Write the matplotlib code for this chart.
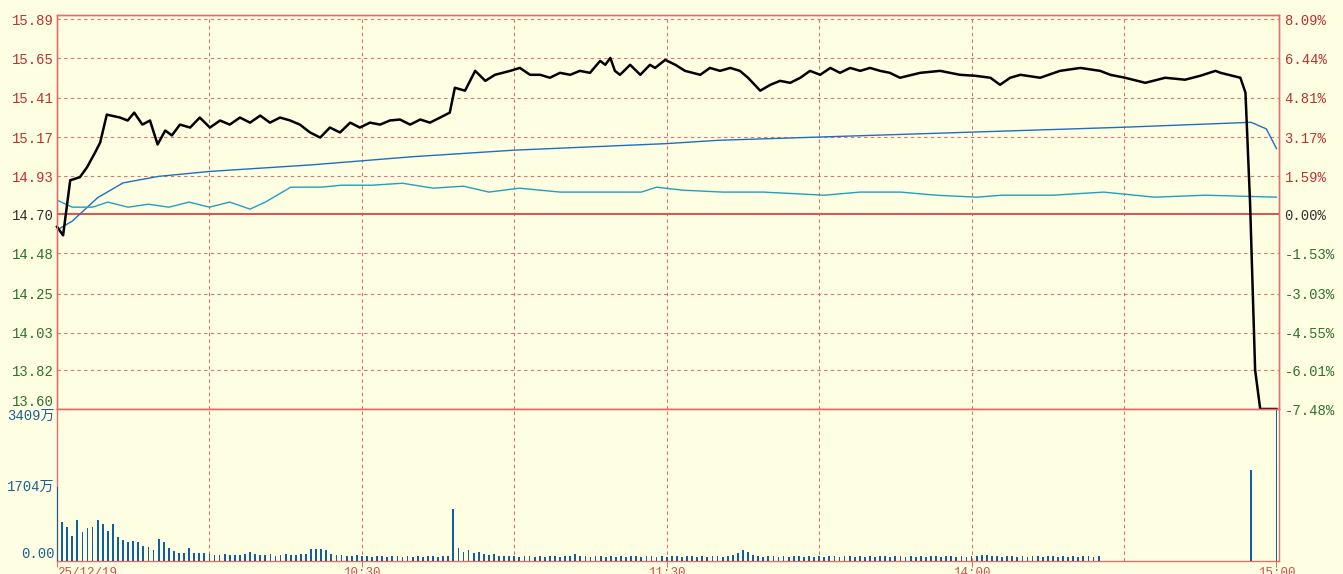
import numpy as np
import matplotlib
matplotlib.use("Agg")
import matplotlib.pyplot as plt

BG = "#FEFEE2"
GRID = "#E07070"

prev_close = 14.70
price_ticks = [15.89, 15.65, 15.41, 15.17, 14.93, 14.70, 14.48, 14.25, 14.03, 13.82, 13.60]
pct_labels = ["8.09%", "6.44%", "4.81%", "3.17%", "1.59%", "0.00%", "-1.53%", "-3.03%", "-4.55%", "-6.01%", "-7.48%"]
vol_ticks = [0, 1704, 3409]
vol_labels = ["0.00", "1704万", "3409万"]
time_ticks = [0, 60, 120, 180, 240]
time_labels = ["25/12/19", "10:30", "11:30", "14:00", "15:00"]

price_min = [0, 1.2, 2.6, 4.5, 5.9, 7.5, 8.5, 9.8, 12.4, 13.9, 15.2, 16.8, 18.3, 19.8, 21.3, 22.6, 24.2, 26.2, 28.1, 30.1, 32.1, 34.0, 36.0, 38.0, 40.0, 41.9, 43.9, 45.9, 47.8, 49.8, 51.8, 53.7, 55.7, 57.7, 59.6, 61.6, 63.6, 65.5, 67.5, 69.5, 71.5, 73.4, 75.4, 77.3, 78.3, 80.3, 82.3, 84.3, 86.2, 89.2, 91.1, 93.1, 95.1, 97.0, 99.0, 101.0, 102.9, 104.9, 106.9, 107.9, 108.9, 109.8, 110.8, 112.8, 114.8, 116.7, 117.7, 119.7, 121.7, 123.6, 126.6, 128.5, 130.5, 132.5, 134.4, 136.0, 138.4, 140.4, 142.3, 144.3, 146.3, 148.2, 150.2, 152.2, 154.1, 156.1, 158.1, 160.0, 162.0, 163.9, 165.9, 169.9, 173.8, 177.7, 180.7, 183.7, 185.6, 187.6, 189.6, 193.5, 197.4, 201.4, 205.3, 207.3, 210.2, 214.2, 218.1, 222.0, 225.0, 228.0, 229.0, 232.9, 233.9, 234.8, 235.8, 236.8, 240.0]
price_val = [14.628, 14.58, 14.906, 14.925, 14.985, 15.076, 15.137, 15.307, 15.289, 15.271, 15.319, 15.246, 15.271, 15.125, 15.210, 15.180, 15.246, 15.228, 15.289, 15.228, 15.271, 15.246, 15.289, 15.258, 15.301, 15.258, 15.289, 15.271, 15.246, 15.198, 15.167, 15.228, 15.198, 15.258, 15.228, 15.258, 15.246, 15.271, 15.277, 15.246, 15.277, 15.258, 15.289, 15.319, 15.471, 15.453, 15.574, 15.513, 15.550, 15.574, 15.592, 15.550, 15.550, 15.532, 15.562, 15.550, 15.574, 15.562, 15.635, 15.611, 15.653, 15.574, 15.550, 15.611, 15.550, 15.611, 15.592, 15.641, 15.611, 15.574, 15.550, 15.592, 15.574, 15.592, 15.574, 15.532, 15.453, 15.489, 15.513, 15.501, 15.532, 15.574, 15.550, 15.592, 15.562, 15.592, 15.574, 15.592, 15.574, 15.562, 15.532, 15.562, 15.574, 15.550, 15.544, 15.532, 15.489, 15.532, 15.550, 15.532, 15.574, 15.592, 15.574, 15.550, 15.532, 15.501, 15.532, 15.520, 15.544, 15.574, 15.562, 15.532, 15.441, 14.773, 13.82, 13.60, 13.60]
avg_min = [0, 3, 8, 13, 20, 30, 50, 70, 90, 120, 130, 150, 180, 210, 235, 238, 240]
avg_val = [14.61, 14.66, 14.80, 14.89, 14.93, 14.96, 15.00, 15.05, 15.09, 15.13, 15.15, 15.17, 15.20, 15.23, 15.26, 15.22, 15.10]
idx_min = [0, 3, 5, 7, 10, 14, 18, 22, 26, 30, 34, 38, 41, 46, 52, 56, 62, 68, 74, 80, 85, 91, 99, 107, 115, 118, 123, 131, 139, 151, 158, 166, 173, 181, 186, 196, 206, 216, 226, 240]
idx_val = [14.785, 14.742, 14.742, 14.742, 14.773, 14.742, 14.760, 14.742, 14.773, 14.742, 14.773, 14.730, 14.773, 14.864, 14.864, 14.876, 14.876, 14.888, 14.858, 14.870, 14.834, 14.858, 14.834, 14.834, 14.834, 14.864, 14.846, 14.834, 14.834, 14.815, 14.834, 14.834, 14.815, 14.803, 14.815, 14.815, 14.834, 14.803, 14.815, 14.803]

volume = [1650, 865, 760, 570, 918, 645, 736, 760, 918, 827,
          683, 827, 546, 478, 433, 455, 433, 342, 304, 243,
          486, 417, 281, 228, 190, 182, 281, 182, 182, 190,
          150, 140, 130, 150, 130, 140, 130, 150, 200, 150,
          140, 130, 150, 120, 140, 150, 130, 140, 150, 160,
          270, 260, 270, 250, 150, 140, 130, 120, 110, 130,
          120, 110, 100, 120, 110, 100, 110, 120, 100, 110,
          100, 110, 100, 120, 110, 100, 110, 120, 1166, 300,
          200, 250, 180, 200, 150, 130, 150, 120, 110, 120,
          110, 100, 110, 120, 100, 110, 100, 120, 110, 100,
          110, 120, 160, 120, 110, 100, 110, 120, 100, 110,
          100, 110, 100, 120, 110, 100, 110, 120, 100, 110,
          100, 120, 110, 100, 110, 120, 100, 110, 100, 110,
          120, 100, 110, 130, 180, 250, 200, 130, 110, 100,
          110, 120, 100, 110, 100, 110, 120, 100, 110, 100,
          110, 100, 120, 110, 100, 110, 120, 100, 110, 100,
          110, 100, 120, 110, 100, 110, 120, 100, 110, 100,
          110, 100, 120, 110, 100, 110, 120, 100, 110, 100,
          110, 120, 130, 140, 120, 110, 100, 110, 120, 100,
          110, 100, 120, 110, 100, 110, 120, 100, 110, 100,
          110, 100, 120, 110, 100, 110, 0, 0, 0, 0,
          0, 0, 0, 0, 0, 0, 0, 0, 0, 0,
          0, 0, 0, 0, 0, 0, 0, 0, 0, 0,
          0, 0, 0, 0, 0, 2040, 0, 0, 0, 0,
          3409]


def fwd(p):
    p = np.asarray(p, dtype=float)
    return np.where(p >= prev_close, (p - prev_close) / 0.238, (p - prev_close) / 0.22)


def inv(v):
    v = np.asarray(v, dtype=float)
    return np.where(v >= 0, prev_close + v * 0.238, prev_close + v * 0.22)


W, H = 1343, 574
fig = plt.figure(figsize=(W / 100, H / 100), dpi=100, facecolor=BG)
L, R = 57 / W, 1279 / W
ax = fig.add_axes([L, 1 - 409 / H, R - L, (409 - 15) / H], facecolor=BG)
axv = fig.add_axes([L, 1 - 561 / H, R - L, (561 - 409) / H], facecolor=BG, sharex=ax)

mono = ["Liberation Mono", "Noto Sans CJK SC"]

ax.set_yscale("function", functions=(fwd, inv))
ax.set_ylim(13.60, 15.89 + 0.025)
ax.set_xlim(0, 240.5)
ax.plot(price_min, price_val, color="black", lw=1.8, zorder=5, clip_on=False)
ax.plot(avg_min, avg_val, color="#1F6FC0", lw=1.0, zorder=4)
ax.plot(idx_min, idx_val, color="#20A0C0", lw=1.0, zorder=4)

for t in price_ticks:
    if t == prev_close:
        ax.axhline(t, color="#E05050", lw=1.4, zorder=3)
    elif t != 13.60:
        ax.axhline(t, color=GRID, lw=0.8, ls=(0, (3, 3)), zorder=1)
for t in range(30, 240, 30):
    ax.axvline(t, color=GRID, lw=0.8, ls=(0, (3, 3)), zorder=1)
    axv.axvline(t, color=GRID, lw=0.8, ls=(0, (3, 3)), zorder=1)

def color_for(t):
    return "#C03030" if t > prev_close else ("#303030" if t == prev_close else "#307030")

ax.set_yticks(price_ticks)
ax.set_yticklabels([f"{t:.2f}" for t in price_ticks], family=mono, fontsize=10)
for lab, t in zip(ax.get_yticklabels(), price_ticks):
    lab.set_color(color_for(t))
    if t == 13.60:
        lab.set_va("bottom")
ax.tick_params(axis="y", length=0, pad=2)
ax.tick_params(axis="x", length=0, labelbottom=False)

ax2 = ax.twinx()
ax2.set_yscale("function", functions=(fwd, inv))
ax2.set_ylim(ax.get_ylim())
ax2.set_yticks(price_ticks)
ax2.set_yticklabels(pct_labels, family=mono, fontsize=10)
for lab, t in zip(ax2.get_yticklabels(), price_ticks):
    lab.set_color(color_for(t))
ax2.tick_params(axis="y", length=0, pad=4)

axv.bar(np.arange(len(volume)), volume, width=0.35, color="#1060A0", zorder=3)
axv.set_ylim(0, 3409)
axv.set_yticks(vol_ticks)
axv.set_yticklabels(vol_labels, family=mono, fontsize=10, color="#1F6090")
for lab, t in zip(axv.get_yticklabels(), vol_ticks):
    if t == 3409:
        lab.set_va("top")
    elif t == 0:
        lab.set_va("bottom")
axv.tick_params(axis="y", length=0, pad=2)
axv.set_xticks(time_ticks)
axv.set_xticklabels(time_labels, family=mono, fontsize=9, color="#D05050")
axv.tick_params(axis="x", length=4, color=GRID, pad=0)
for lab, ha in zip(axv.get_xticklabels(), ["left", "center", "center", "center", "center"]):
    lab.set_ha(ha)

for a in (ax, ax2, axv):
    for s in a.spines.values():
        s.set_color(GRID)
        s.set_linewidth(1.0)

fig.savefig("out.png", dpi=100, facecolor=BG)
